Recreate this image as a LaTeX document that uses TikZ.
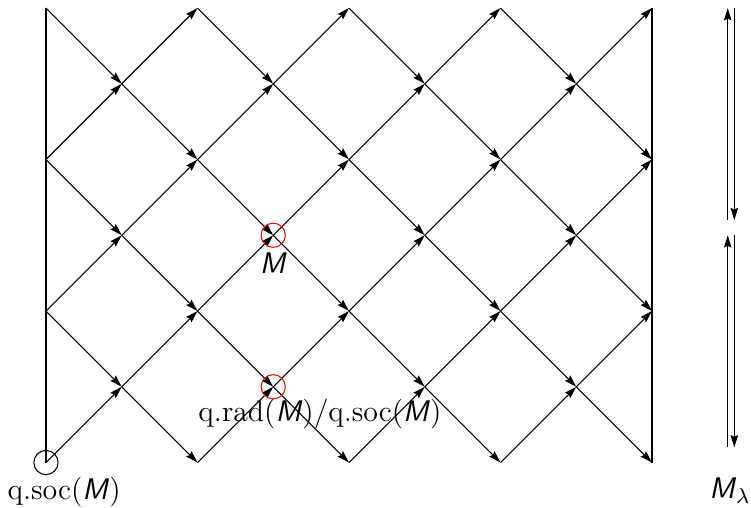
\documentclass[tikz,border=0pt]{standalone}
\usetikzlibrary{arrows.meta}
\newcommand{\Msf}{\textsf{\textit{M}}}
\begin{document}
\begin{tikzpicture}[line cap=butt,line join=miter,>={Stealth[length=4.6pt,width=2.8pt,inset=0.6pt]},
	mark circle/.style={circle,draw,minimum size=0.32cm,inner sep=0pt},
	lbl/.style={font=\fontsize{11.2}{13}\selectfont,inner sep=0pt}]
	\useasboundingbox (-0.607,-0.594) rectangle (9.307,6.106);
	% lattice points
	\foreach \i in {0,...,8}{
		\foreach \j in {0,...,6}{
			\pgfmathtruncatemacro\parity{mod(\i+\j,2)}
			\ifnum\parity=0 \coordinate (p-\i-\j) at (\i,\j); \fi
		}
	}
	\draw (p-0-0)--(p-0-6);
	\draw (p-8-0)--(p-8-6);
	\foreach \i in {0,...,7}{
		\foreach \j in {0,...,6}{
			\pgfmathtruncatemacro\parity{mod(\i+\j,2)}
			\pgfmathtruncatemacro\ni{\i+1}
			\pgfmathtruncatemacro\up{\j+1}
			\pgfmathtruncatemacro\dn{\j-1}
			\ifnum\parity=0
				\ifnum\j<6 \draw[->] (p-\i-\j)--(p-\ni-\up); \fi
				\ifnum\j>0 \draw[->] (p-\i-\j)--(p-\ni-\dn); \fi
			\fi
		}
	}
	\node[mark circle] (soc) at (p-0-0) {};
	\node[mark circle,red] (m) at (p-3-3) {};
	\node[mark circle,red] (rad) at (p-3-1) {};
	\node[lbl] (soclbl) at ([shift={(0.24,-0.39)}]p-0-0) {q.soc(\Msf)};
	\node[lbl] (mlbl) at ([shift={(0,-0.37)}]p-3-3) {\Msf};
	\node[lbl] (radlbl) at ([shift={(0.617,-0.366)}]p-3-1) {q.rad(\Msf)/q.soc(\Msf)};
	% M_lambda
	\coordinate (ua1) at (9,3.2); \coordinate (ua2) at (9,6);
	\coordinate (da1) at (9.087,6); \coordinate (da2) at (9.087,3.2);
	\coordinate (ub1) at (9,0.2); \coordinate (ub2) at (9,3);
	\coordinate (db1) at (9.087,3); \coordinate (db2) at (9.087,0.2);
	\draw[->] (ua1)--(ua2);
	\draw[->] (da1)--(da2);
	\draw[->] (ub1)--(ub2);
	\draw[->] (db1)--(db2);
	\node[lbl] (mlam) at (9.03,-0.376) {\Msf$_\lambda$};
\end{tikzpicture}
\end{document}
